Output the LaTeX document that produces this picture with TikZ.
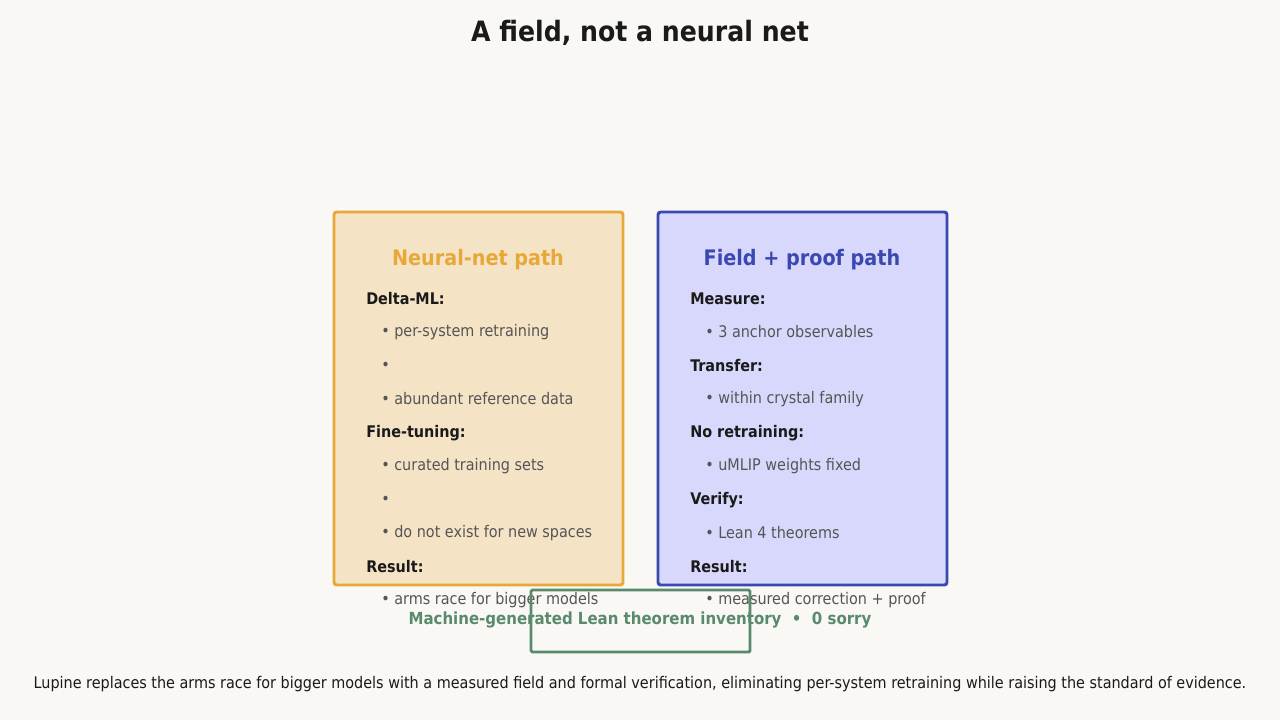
\documentclass[tikz,border=0pt]{standalone}
\usepackage{fontspec}
\setmainfont{DejaVu Sans Condensed}
\usetikzlibrary{positioning}
\definecolor{bgc}{HTML}{F9F8F4}
\definecolor{nnline}{HTML}{E8A838}
\definecolor{nnfill}{HTML}{F5E3C6}
\definecolor{fpline}{HTML}{3A48B0}
\definecolor{fpfill}{HTML}{D8D8FC}
\definecolor{leanc}{HTML}{5A8A6E}
\definecolor{itemc}{HTML}{555555}
\definecolor{inkc}{HTML}{1A1A1A}
\begin{document}
\begin{tikzpicture}[x=0.75pt,y=-0.75pt,
  panel/.style={draw, line width=2.2pt, rounded corners=2pt},
  head/.style={font=\fontsize{16}{19}\selectfont\bfseries},
  key/.style={anchor=west, font=\fontsize{12}{14}\selectfont\bfseries, text=inkc, inner sep=0pt},
  item/.style={anchor=west, font=\fontsize{12}{14}\selectfont, text=itemc, inner sep=0pt},
  every node/.style={inner sep=0pt}
]
\fill[bgc] (0,0) rectangle (1280,720);
\node[font=\fontsize{21}{25}\selectfont\bfseries, text=inkc] (title) at (640,33) {A field, not a neural net};

% panels
\draw[panel, draw=nnline, fill=nnfill] (334,212) rectangle (623,585);
\draw[panel, draw=fpline, fill=fpfill] (658,212) rectangle (947,585);
\node[head, text=nnline] (nnhead) at (478,260) {Neural-net path};
\node[head, text=fpline] (fphead) at (802,260) {Field + proof path};

% left column
\node[key] (l1) at (366,299) {Delta-ML:};
\node[item] (l2) at (381,332) {• per-system retraining};
\node[item] (l3) at (381,366) {•};
\node[item] (l4) at (381,399) {• abundant reference data};
\node[key] (l5) at (366,433) {Fine-tuning:};
\node[item] (l6) at (381,466) {• curated training sets};
\node[item] (l7) at (381,500) {•};
\node[item] (l8) at (381,533) {• do not exist for new spaces};
\node[key] (l9) at (366,567) {Result:};
\node[item] (l10) at (381,600) {• arms race for bigger models};

% right column
\node[key] (r1) at (690,299) {Measure:};
\node[item] (r2) at (705,332) {• 3 anchor observables};
\node[key] (r3) at (690,366) {Transfer:};
\node[item] (r4) at (705,399) {• within crystal family};
\node[key] (r5) at (690,433) {No retraining:};
\node[item] (r6) at (705,466) {• uMLIP weights fixed};
\node[key] (r7) at (690,500) {Verify:};
\node[item] (r8) at (705,533) {• Lean 4 theorems};
\node[key] (r9) at (690,567) {Result:};
\node[item] (r10) at (705,600) {• measured correction + proof};

% lean inventory
\draw[draw=leanc, line width=2.2pt, rounded corners=1pt] (531,590) rectangle (750,652);
\node[font=\fontsize{12.5}{15}\selectfont\bfseries, text=leanc] (lean) at (640,620) {Machine-generated Lean theorem inventory \ • \ 0 sorry};

\node[font=\fontsize{12}{14}\selectfont, text=inkc] (caption) at (640,684) {Lupine replaces the arms race for bigger models with a measured field and formal verification, eliminating per-system retraining while raising the standard of evidence.};
\end{tikzpicture}
\end{document}
